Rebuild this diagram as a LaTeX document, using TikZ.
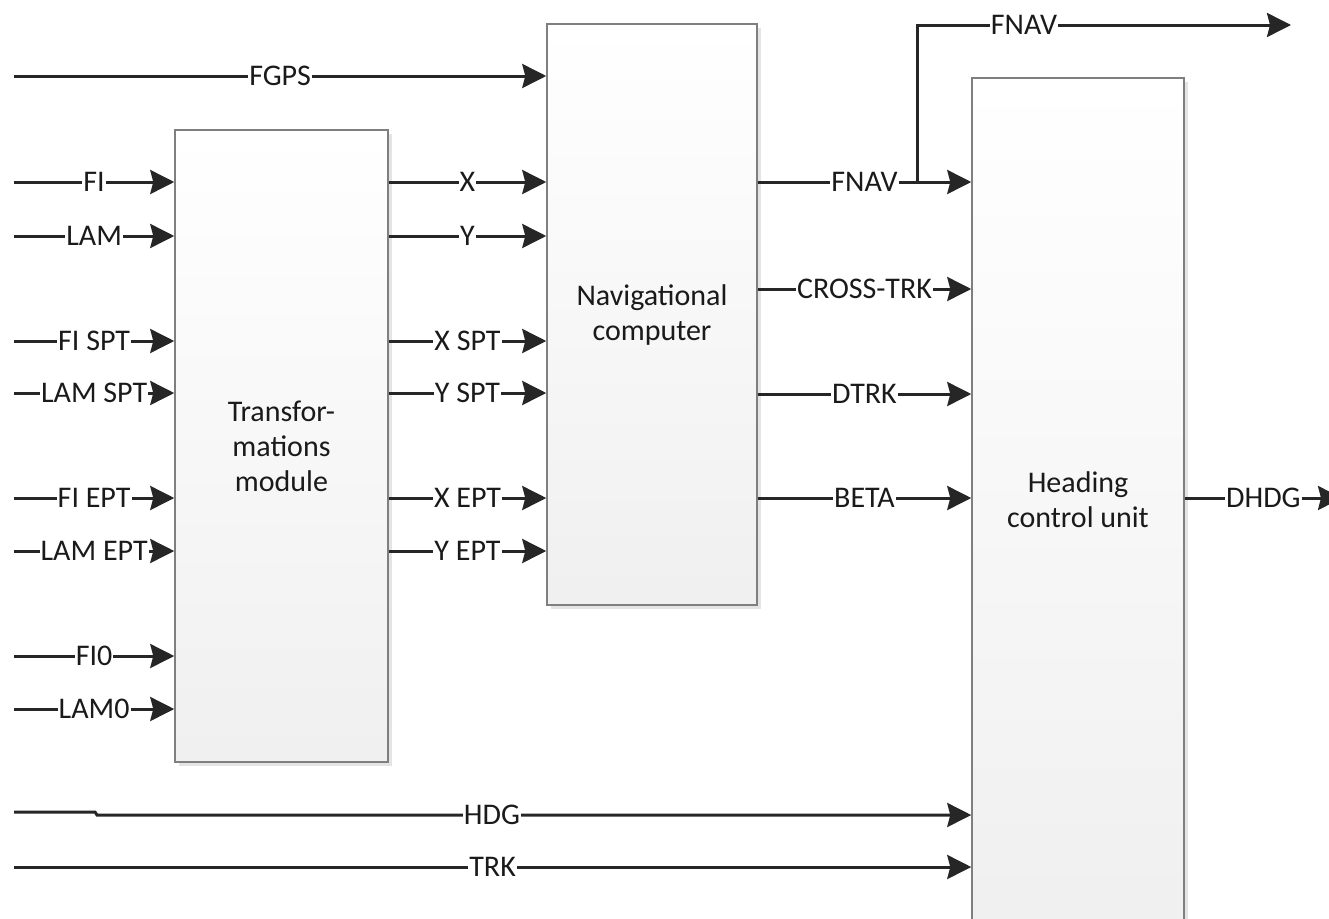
\documentclass[tikz,border=0pt]{standalone}
\usepackage{fontspec}
\setmainfont{Carlito}
\usetikzlibrary{arrows.meta,shadows,calc}
\definecolor{ln}{HTML}{262626}
\definecolor{bx}{HTML}{7F7F7F}
\definecolor{tx}{HTML}{1A1A1A}
\tikzset{
  blk/.style={draw=bx, line width=1.5pt, top color=white, bottom color=black!6,
    drop shadow={shadow xshift=4pt, shadow yshift=-4pt, fill=black!15, opacity=0.7},
    align=center, inner sep=0pt, text=tx},
  sig/.style={draw=ln, line width=3pt, -{Stealth[length=24pt,width=24pt,inset=3pt]}},
  lbl/.style={fill=white, inner sep=1pt, text=tx},
}
\begin{document}
\begin{tikzpicture}[x=1pt,y=-1pt, font=\fontsize{30}{35}\selectfont]
\useasboundingbox (0,0) rectangle (1329,918);
\clip (0,0) rectangle (1329,918);

% blocks
\node[blk, minimum width=213, minimum height=632] (tm) at (281.5,446) {Transfor-\\mations\\module};
\node[blk, minimum width=210, minimum height=581] (nc) at (652,314.5) {Navigational\\computer};
\node[blk, minimum width=212, minimum height=844] (hcu) at (1078,500) {Heading\\control unit};

% FGPS
\coordinate (fgps) at (14,76);
\draw[sig] (fgps) -- (fgps -| nc.west) node[lbl,midway] (lfgps) {FGPS};

% inputs of transformations module
\foreach \yy/\tt [count=\i] in {182/FI, 236/LAM, 341/FI SPT, 393/LAM SPT, 498/FI EPT, 551/LAM EPT, 656/FI0, 709/LAM0}{
  \coordinate (in\i) at (14,\yy);
  \draw[sig] (in\i) -- (in\i -| tm.west) node[lbl,midway] (lin\i) {\tt};
}

% transformations -> navigational computer
\foreach \yy/\tt [count=\i] in {182/X, 236/Y, 341/X SPT, 393/Y SPT, 498/X EPT, 551/Y EPT}{
  \draw[sig] (tm.east |- 0,\yy) -- (nc.west |- 0,\yy) node[lbl,midway] (ltn\i) {\tt};
}

% navigational computer -> heading control unit
\foreach \yy/\tt [count=\i] in {182/FNAV, 289/CROSS-TRK, 394/DTRK, 498/BETA}{
  \draw[sig] (nc.east |- 0,\yy) -- (hcu.west |- 0,\yy) node[lbl,midway] (lnh\i) {\tt};
}

% FNAV branch
\coordinate (br) at (917,182);
\coordinate (fnavout) at (1291,25);
\draw[sig] (br) |- (fnavout);
\node[lbl] (lfnav) at (1024,25) {FNAV};

% HDG and TRK
\coordinate (hdg) at (14,812);
\draw[sig] (hdg) -- ++(81,0) -- ++(2,3) -- (hcu.west |- 0,815);
\node[lbl] (lhdg) at (492,815) {HDG};
\coordinate (trk) at (14,867);
\draw[sig] (trk) -- (trk -| hcu.west) node[lbl,midway] (ltrk) {TRK};

% DHDG output
\coordinate (dhdg) at (1342,498);
\draw[sig] (hcu.east |- 0,498) -- (dhdg) node[lbl,midway] (ldhdg) {DHDG};
\end{tikzpicture}
\end{document}
